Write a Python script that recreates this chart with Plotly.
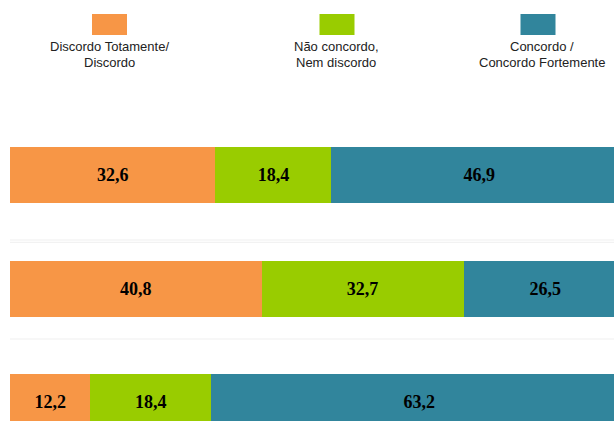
import plotly.graph_objects as go

# Survey responses per statement (percent of respondents)
categorias = ["Afirmação 1", "Afirmação 2", "Afirmação 3"]
discordo = [32.6, 40.8, 12.2]
neutro = [18.4, 32.7, 18.4]
concordo = [46.9, 26.5, 63.2]

legenda_linhas = [
    ("Discordo Totamente/", "Discordo"),
    ("Não concordo,", "Nem discordo"),
    ("Concordo /", "Concordo Fortemente"),
]
cores = ["#F79646", "#99CC00", "#31859C"]

W, H = 614, 421


def rotulo(v):
    return f"{v:.1f}".replace(".", ",")


def px_x(p):
    return p / W


def px_y(p):
    return 1 - p / H


fig = go.Figure()
for valores, cor, linhas in zip([discordo, neutro, concordo], cores, legenda_linhas):
    fig.add_trace(go.Bar(
        y=categorias,
        x=valores,
        orientation="h",
        name=" ".join(linhas),
        marker=dict(color=cor, line=dict(width=0)),
        width=0.494,
        text=[rotulo(v) for v in valores],
        textposition="inside",
        insidetextanchor="middle",
        textangle=0,
        constraintext="none",
        textfont=dict(family="Liberation Serif, Times New Roman, serif",
                      size=18, color="black", weight="bold"),
        hoverinfo="skip",
    ))

shapes = []
annotations = []

# faint separator lines
for p in [240, 242.3, 339]:
    shapes.append(dict(type="line", xref="paper", yref="paper",
                       x0=px_x(10), x1=1, y0=px_y(p), y1=px_y(p),
                       line=dict(color="#efefef", width=1)))

# legend: colour swatch with two-line caption underneath
swatch_cx = [109.5, 337, 538]
texto_cx = [109.5, 336, 542]
for cx, tx, cor, (l1, l2) in zip(swatch_cx, texto_cx, cores, legenda_linhas):
    shapes.append(dict(type="rect", xref="paper", yref="paper",
                       x0=px_x(cx - 17.5), x1=px_x(cx + 17.5),
                       y0=px_y(35), y1=px_y(14),
                       fillcolor=cor, line=dict(width=0)))
    for linha, py in [(l1, 46.5), (l2, 62)]:
        annotations.append(dict(xref="paper", yref="paper",
                                x=px_x(tx), y=px_y(py),
                                xanchor="center", yanchor="middle",
                                text=linha, showarrow=False,
                                font=dict(family="Liberation Sans, Arial, sans-serif",
                                          size=13, color="#222222")))

fig.update_layout(
    width=W, height=H,
    margin=dict(l=0, r=0, t=0, b=0),
    barmode="stack",
    barnorm="percent",
    plot_bgcolor="white",
    paper_bgcolor="white",
    showlegend=False,
    shapes=shapes,
    annotations=annotations,
    xaxis=dict(range=[-10 / 6.17, 604 / 6.17], visible=False, fixedrange=True),
    yaxis=dict(range=[2.1676, -1.5466], visible=False, fixedrange=True),
    hovermode=False,
)

fig.write_html("out.html")
